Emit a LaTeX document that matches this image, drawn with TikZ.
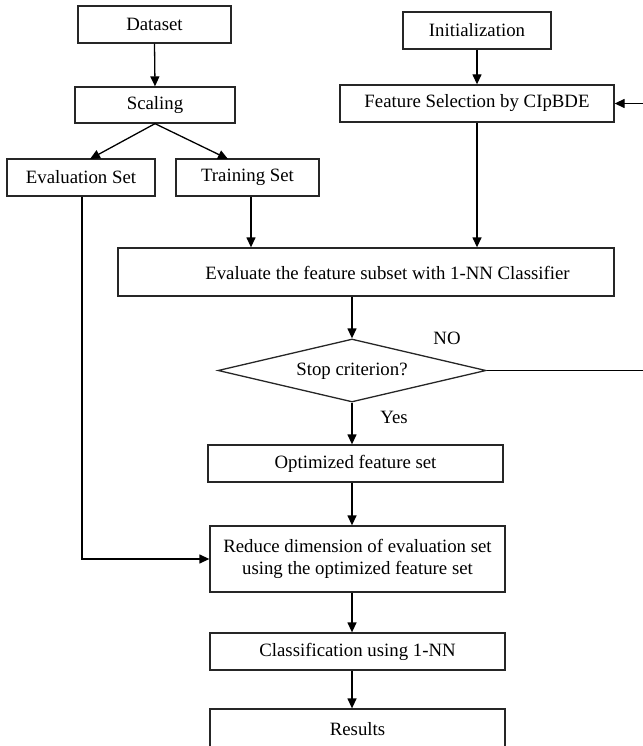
\documentclass[tikz,border=0pt]{standalone}
\usepackage{fontspec}
\setmainfont{Liberation Serif}
\usetikzlibrary{arrows.meta,shapes.geometric}
\begin{document}
\begin{tikzpicture}[x=1pt,y=-1pt,
  box/.style={draw=black!85,line width=1.3pt,inner sep=0pt,align=center,font=\fontsize{18.8}{22}\selectfont},
  lbl/.style={inner sep=0pt,font=\fontsize{18.8}{22}\selectfont},
  arr/.style={line width=1.3pt,-{Triangle[length=10pt,width=9pt]}},
  ln/.style={line width=1.3pt}]
\useasboundingbox (0,0) rectangle (642,746);
% boxes
\node[box,minimum width=153,minimum height=37] (data) at (154.5,24.5) {Dataset};
\node[box,minimum width=160,minimum height=36] (scal) at (155,105) {Scaling};
\node[box,minimum width=148,minimum height=37] (evs) at (81,177.5) {Evaluation Set};
\node[box,minimum width=143,minimum height=37] (train) at (247.5,177.5) {Training Set};
\node[box,minimum width=148,minimum height=37] (init) at (477,30.5) {Initialization};
\node[box,minimum width=274,minimum height=37] (fs) at (477,103.5) {Feature Selection by CIpBDE};
\node[box,minimum width=496,minimum height=48] (ev) at (366,272) {};
\node[lbl] (evt) at (387.5,272.5) {Evaluate the feature subset with 1-NN Classifier};
\node[box,shape=diamond,aspect=4.25,minimum width=268,minimum height=63] (stop) at (352,370.5) {};
\node[lbl] (stopt) at (352,371) {Stop criterion?};
\node[box,minimum width=295,minimum height=37] (opt) at (355.5,463.5) {Optimized feature set};
\node[box,minimum width=295,minimum height=66] (red) at (357.5,559) {Reduce dimension of evaluation set\\using the optimized feature set};
\node[box,minimum width=295,minimum height=37] (cls) at (357.5,651.5) {Classification using 1-NN};
\node[box,minimum width=295,minimum height=40] (res) at (357.5,729) {Results};
% labels
\node[lbl] (no) at (447,338) {NO};
\node[lbl] (yes) at (394,417) {Yes};
% connectors
\draw[arr] (data.south) -- (scal.north);
\draw[arr] (scal.south) -- (90,159);
\draw[arr] (scal.south) -- (228,159);
\draw[arr] (train.south -| 251,0) -- (ev.north -| 251,0);
\draw[arr] (evs.south -| 82,0) |- (red.west);
\draw[arr] (init.south) -- (fs.north);
\draw[arr] (fs.south) -- (ev.north -| fs.south);
\draw[arr] (ev.south -| stop.north) -- (stop.north);
\coordinate (back) at (648,370.5);
\draw[arr] (stop.east) -- (back) |- (fs.east);
\draw[arr] (stop.south) -- (opt.north -| stop.south);
\draw[arr] (opt.south -| stop.south) -- (red.north -| stop.south);
\draw[arr] (red.south -| stop.south) -- (cls.north -| stop.south);
\draw[arr] (cls.south -| stop.south) -- (res.north -| stop.south);
\end{tikzpicture}
\end{document}
